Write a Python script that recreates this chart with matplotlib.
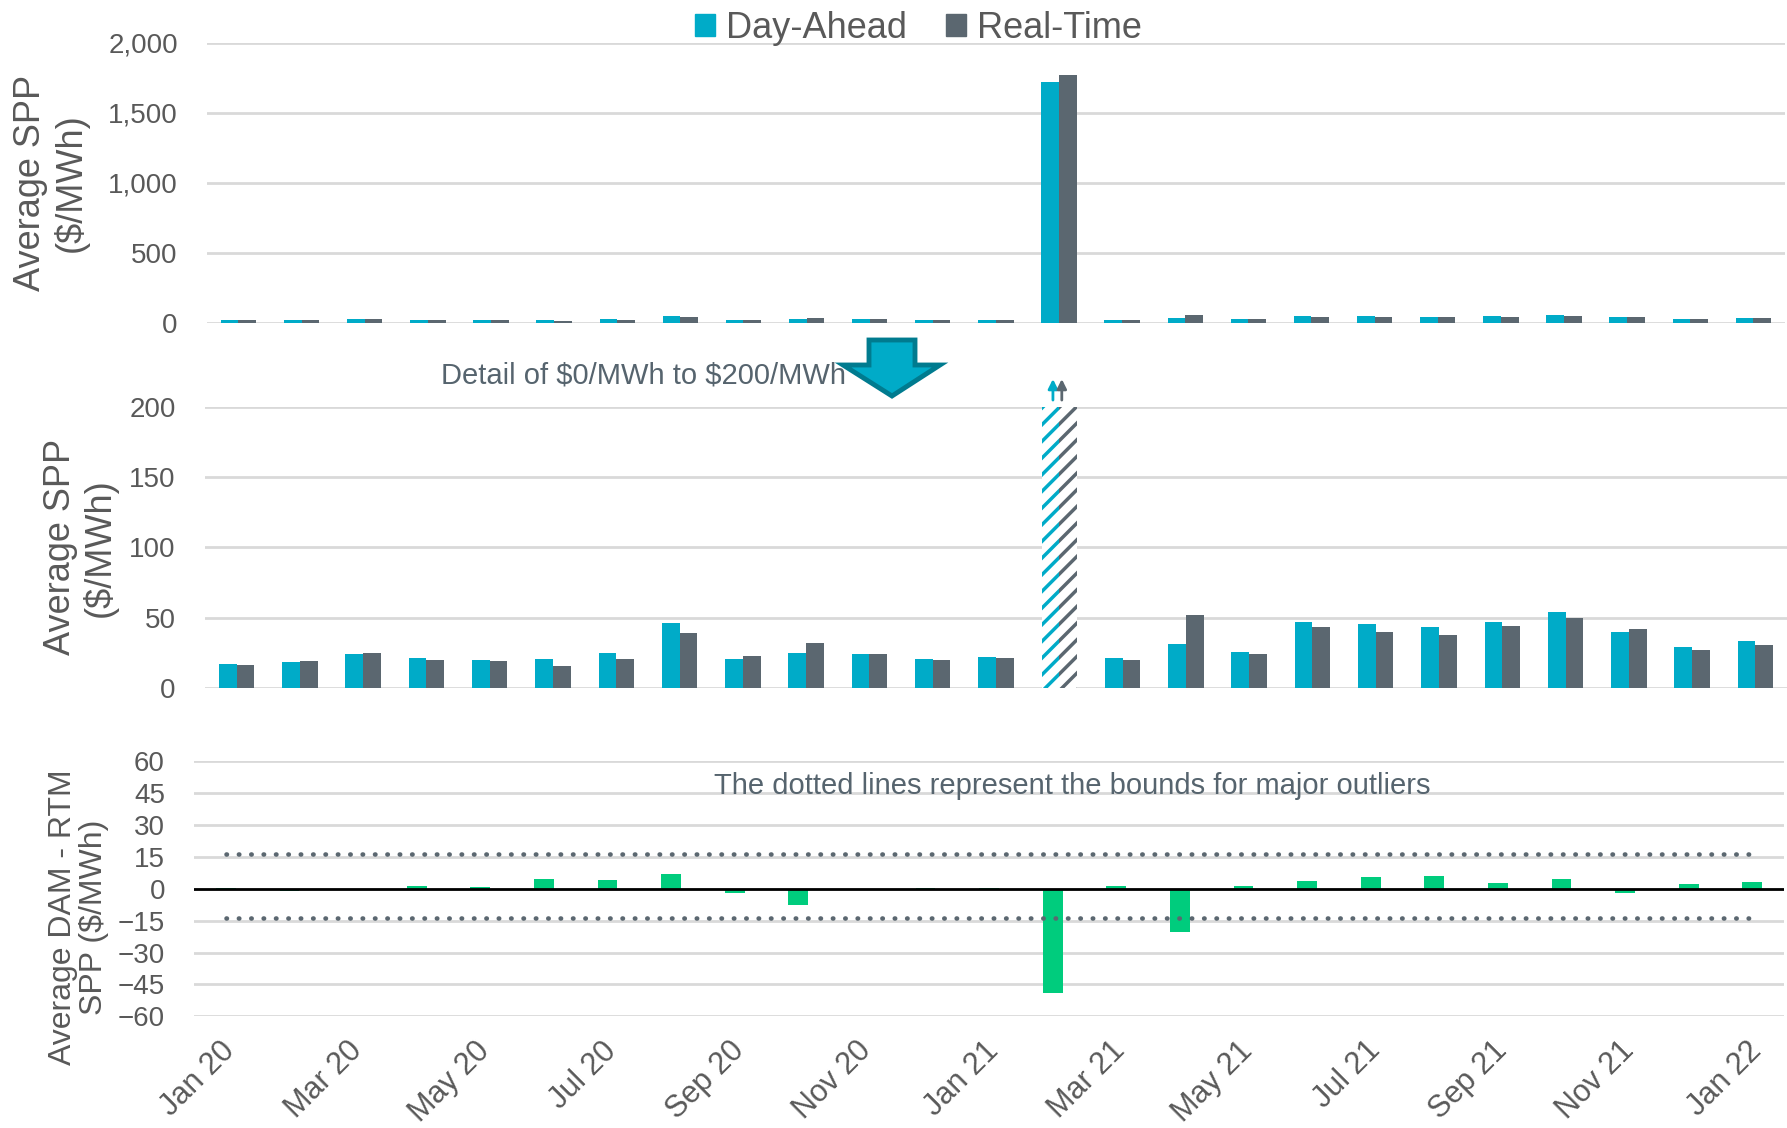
import numpy as np
import matplotlib
matplotlib.use("Agg")
import matplotlib.pyplot as plt
from matplotlib.patches import Patch, Polygon
from matplotlib.ticker import FuncFormatter
from matplotlib.transforms import ScaledTranslation

plt.rcParams['font.family'] = ['Liberation Sans', 'DejaVu Sans']
plt.rcParams['hatch.linewidth'] = 2.5

# data
months = ['Jan 20', 'Feb 20', 'Mar 20', 'Apr 20', 'May 20', 'Jun 20', 'Jul 20',
          'Aug 20', 'Sep 20', 'Oct 20', 'Nov 20', 'Dec 20', 'Jan 21', 'Feb 21',
          'Mar 21', 'Apr 21', 'May 21', 'Jun 21', 'Jul 21', 'Aug 21', 'Sep 21',
          'Oct 21', 'Nov 21', 'Dec 21', 'Jan 22']
day_ahead = [16.9, 18.3, 24.0, 21.1, 19.7, 20.2, 24.5, 45.8, 20.2, 24.5, 23.8, 20.4,
             21.9, 1721, 21.1, 31.1, 25.4, 46.8, 45.4, 43.2, 47.0, 53.9, 39.7, 29.0, 33.0]
real_time = [16.2, 19.2, 24.5, 20.0, 18.8, 15.4, 20.4, 39.0, 22.3, 32.1, 23.8, 19.7,
             21.4, 1769, 20.0, 51.8, 24.0, 43.2, 39.7, 37.5, 44.2, 49.9, 41.8, 26.8, 30.2]
spread = [0.6, -0.9, -0.6, 1.2, 0.9, 4.5, 4.1, 6.9, -1.9, -7.8, 0.0, 0.6,
          0.5, -49.0, 1.2, -20.4, 1.2, 3.6, 5.5, 6.0, 2.7, 4.5, -2.2, 2.2, 3.0]
outlier_upper = 16.5
outlier_lower = -13.8
detail_cap = 200

DA_COLOR = '#00ABC8'
RT_COLOR = '#5B6770'
GREEN = '#00CC7D'
GRID = '#D9D9D9'
TXT = '#595959'
NOTE = '#56646E'

x = np.arange(len(months))
da = np.array(day_ahead)
rt = np.array(real_time)
w = 0.28

fig = plt.figure(figsize=(17.87, 11.28), dpi=100)
ax1 = fig.add_axes([0.1158, 0.7139, 0.8830, 0.2482])
ax2 = fig.add_axes([0.1147, 0.3903, 0.8853, 0.2488])
ax3 = fig.add_axes([0.1086, 0.0990, 0.8898, 0.2261])


def style(ax):
    for s in ax.spines.values():
        s.set_visible(False)
    ax.set_axisbelow(True)
    ax.grid(axis='y', color=GRID, linewidth=2)
    ax.tick_params(axis='y', length=0, pad=21, labelsize=20, labelcolor=TXT)
    ax.tick_params(axis='x', length=0)
    ax.set_xlim(-0.5, len(months) - 0.5)


# top panel - full range
style(ax1)
ax1.bar(x - w / 2, da, w, color=DA_COLOR)
ax1.bar(x + w / 2, rt, w, color=RT_COLOR)
ax1.set_ylim(0, 2000)
ax1.set_yticks([0, 500, 1000, 1500, 2000])
ax1.yaxis.set_major_formatter(FuncFormatter(lambda v, p: f'{v:,.0f}'))
ax1.set_xticks([])
ax1.set_ylabel('Average SPP\n($/MWh)', fontsize=26, color=TXT, linespacing=1.15)
ax1.yaxis.set_label_coords(-0.075, 0.5)

# middle panel - detail 0 to 200
style(ax2)
big = (da > detail_cap) | (rt > detail_cap)
ax2.bar(x[~big] - w / 2, da[~big], w, color=DA_COLOR)
ax2.bar(x[~big] + w / 2, rt[~big], w, color=RT_COLOR)
ax2.bar(x[big] - w / 2, np.minimum(da[big], detail_cap), w, color='white',
        edgecolor=DA_COLOR, hatch='//', linewidth=0)
ax2.bar(x[big] + w / 2, np.minimum(rt[big], detail_cap), w, color='white',
        edgecolor=RT_COLOR, hatch='//', linewidth=0)
for xi in x[big]:
    for xo, c in [(xi - w / 2 + 0.04, DA_COLOR), (xi + w / 2 - 0.1, RT_COLOR)]:
        ax2.annotate('', xy=(xo, 220), xytext=(xo, 205),
                     arrowprops=dict(arrowstyle='-|>', color=c, lw=2, mutation_scale=14,
                                     shrinkA=0, shrinkB=0),
                     annotation_clip=False)
ax2.set_ylim(0, detail_cap)
ax2.set_yticks([0, 50, 100, 150, 200])
ax2.set_xticks([])
ax2.set_ylabel('Average SPP\n($/MWh)', fontsize=26, color=TXT, linespacing=1.15)
ax2.yaxis.set_label_coords(-0.055, 0.5)

# bottom panel - DAM minus RTM
style(ax3)
ax3.bar(x, spread, 0.31, color=GREEN, zorder=2)
ax3.axhline(0, color='black', linewidth=2, zorder=3)
for bound in [outlier_upper, outlier_lower]:
    ax3.plot([x[0], x[-1]], [bound, bound], color=RT_COLOR, lw=3.3,
             linestyle=(0, (0.1, 2.6)), dash_capstyle='round', zorder=4)
ax3.set_ylim(-60, 60)
ax3.set_yticks(np.arange(-60, 61, 15))
ax3.set_xticks(x[::2])
ax3.set_xticklabels(months[::2], rotation=45, ha='right', va='top',
                    rotation_mode='anchor', fontsize=22, color=TXT)
ax3.tick_params(axis='x', pad=14)
for lab in ax3.get_xticklabels():
    lab.set_transform(lab.get_transform() + ScaledTranslation(-0.06, 0, fig.dpi_scale_trans))
ax3.set_ylabel('Average DAM - RTM\nSPP ($/MWh)', fontsize=23, color=TXT, linespacing=1.05)
ax3.yaxis.set_label_coords(-0.0535, 0.39)
ax3.text(0.552, 0.905, 'The dotted lines represent the bounds for major outliers',
         transform=ax3.transAxes, ha='center', va='center', fontsize=21, color=NOTE)

# legend
handles = [Patch(color=DA_COLOR, label='Day-Ahead'), Patch(color=RT_COLOR, label='Real-Time')]
fig.legend(handles=handles, loc='center', bbox_to_anchor=(0.514, 0.975), ncol=2,
           frameon=False, fontsize=26, handlelength=0.55, handleheight=0.55,
           handletextpad=0.3, columnspacing=1.1, labelcolor=TXT)

# detail arrow and caption
fig.text(846 / 1787, 1 - 376 / 1128, r'Detail of \$0/MWh to \$200/MWh', ha='right',
         va='center', fontsize=21, color=NOTE)
px = [(869, 340), (915, 340), (915, 365), (940, 365), (892, 396), (843, 365), (869, 365)]
arrow = Polygon([(a / 1787, 1 - b / 1128) for a, b in px], closed=True,
                facecolor=DA_COLOR, edgecolor='#007B8F', linewidth=3.5,
                transform=fig.transFigure, joinstyle='miter')
fig.add_artist(arrow)

fig.savefig('out.png', dpi=100)
